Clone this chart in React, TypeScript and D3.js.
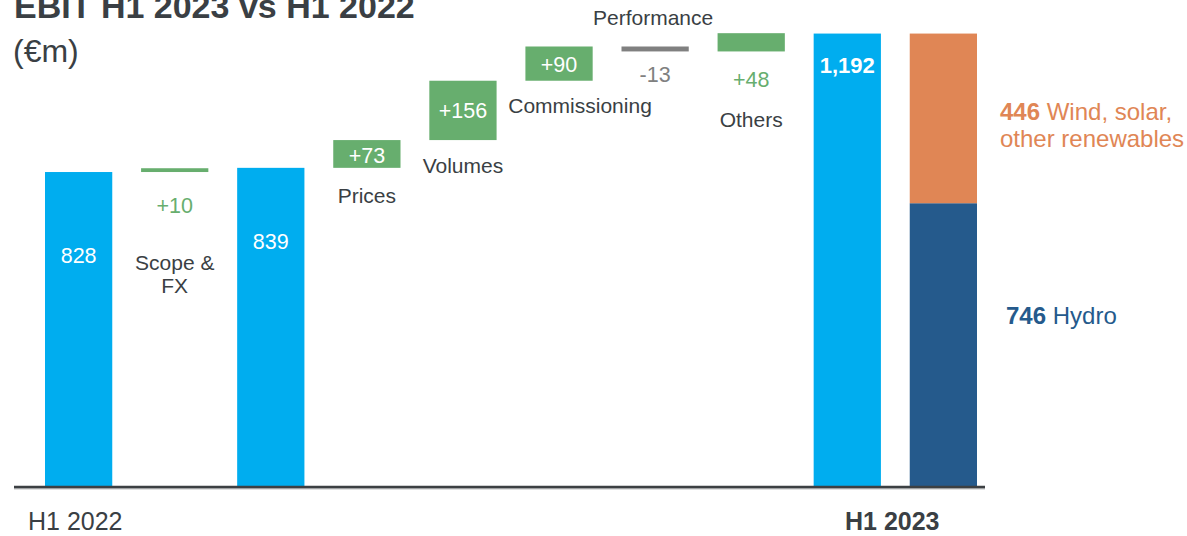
import React from 'react';
import * as d3 from 'd3';

// EBIT bridge H1 2022 -> H1 2023 (€m)
const startLabel = 'H1 2022';
const startValue = 828;
const subtotalValue = 839;
const endLabel = 'H1 2023';
const endValue = 1192;

const driverLabels = ['Scope & FX', 'Prices', 'Volumes', 'Commissioning', 'Performance', 'Others'];
const driverDeltas = [10, 73, 156, 90, -13, 48];

const splitLabels = ['Hydro', 'Wind, solar, other renewables'];
const splitValues = [746, 446];

const W = 1187;
const H = 536;
const baseY = 487;
const font = 'Arial, "Liberation Sans", Helvetica, sans-serif';
const textColor = '#3a3f44';
const blue = '#00adef';
const green = '#67ae6e';
const grey = '#808080';
const navy = '#255a8c';
const orange = '#e08655';

type Col = {
  key: string;
  kind: 'total' | 'delta' | 'stack';
  y0: number;
  y1: number;
  value: number;
};

// build waterfall columns
const cols: Col[] = [];
cols.push({ key: 'start', kind: 'total', y0: 0, y1: startValue, value: startValue });
let run = startValue;
driverDeltas.forEach((d, i) => {
  cols.push({ key: driverLabels[i], kind: 'delta', y0: run, y1: run + d, value: d });
  run += d;
  if (i === 0) {
    cols.push({ key: 'subtotal', kind: 'total', y0: 0, y1: subtotalValue, value: subtotalValue });
    run = subtotalValue;
  }
});
cols.push({ key: 'end', kind: 'total', y0: 0, y1: endValue, value: endValue });
cols.push({ key: 'split', kind: 'stack', y0: 0, y1: endValue, value: endValue });

// label placement (baseline y in px, optional x shift for category text)
const labelPos: Record<string, { value: number; cat?: number[]; dx?: number }> = {
  start: { value: 263 },
  'Scope & FX': { value: 213, cat: [270, 293] },
  subtotal: { value: 249 },
  Prices: { value: 163, cat: [203] },
  Volumes: { value: 118, cat: [173] },
  Commissioning: { value: 72, cat: [113], dx: 21 },
  Performance: { value: 82, cat: [25], dx: -2 },
  Others: { value: 87, cat: [127] },
  end: { value: 73 },
};

const catLines: Record<string, string[]> = {
  'Scope & FX': ['Scope &', 'FX'],
};

const fmt = d3.format(',');
const fmtDelta = (v: number) => (v > 0 ? `+${v}` : `${v}`);

export default function App() {
  const x = d3
    .scaleBand<string>()
    .domain(cols.map((c) => c.key))
    .range([45, 977])
    .paddingInner(0.3)
    .paddingOuter(0);

  const y = d3.scaleLinear().domain([0, 1280]).range([baseY, baseY - 1280 * 0.3804]);

  const bw = x.bandwidth();

  const stack = d3.stack<any>().keys(splitLabels)([
    Object.fromEntries(splitLabels.map((k, i) => [k, splitValues[i]])),
  ]);

  return (
    <svg
      width={W}
      height={H}
      style={{ position: 'absolute', left: 0, top: 0, background: '#fff' }}
      fontFamily={font}
    >
      {/* title */}
      <text x={14} y={18} fontSize={34} fontWeight="bold" fill={textColor}>
        EBIT H1 2023 vs H1 2022
      </text>
      <text x={13} y={62} fontSize={32} fill={textColor}>
        (€m)
      </text>

      {cols.map((c) => {
        const x0 = x(c.key)!;
        const cx = x0 + bw / 2;
        const lp = labelPos[c.key];
        if (c.kind === 'stack') {
          return (
            <g key={c.key}>
              {stack.map((s, i) => (
                <rect
                  key={s.key}
                  x={x0}
                  width={bw}
                  y={y(s[0][1])}
                  height={y(s[0][0]) - y(s[0][1])}
                  fill={i === 0 ? navy : orange}
                />
              ))}
            </g>
          );
        }
        if (c.kind === 'total') {
          const isEnd = c.key === 'end';
          return (
            <g key={c.key}>
              <rect x={x0} width={bw} y={y(c.y1)} height={baseY + 2 - y(c.y1)} fill={blue} />
              <text
                x={cx}
                y={lp.value}
                textAnchor="middle"
                fontSize={isEnd ? 22 : 21.5}
                fontWeight={isEnd ? 'bold' : 'normal'}
                fill="#fff"
              >
                {fmt(c.value)}
              </text>
            </g>
          );
        }
        const top = y(Math.max(c.y0, c.y1));
        const bottom = y(Math.min(c.y0, c.y1));
        const h = bottom - top;
        const neg = c.value < 0;
        const inside = h > 25;
        const lines = catLines[c.key] || [c.key];
        return (
          <g key={c.key}>
            <rect x={x0} width={bw} y={top} height={Math.max(h, 3)} fill={neg ? grey : green} />
            <text
              x={cx}
              y={lp.value}
              textAnchor="middle"
              fontSize={21.5}
              fill={inside ? '#fff' : neg ? grey : green}
            >
              {fmtDelta(c.value)}
            </text>
            {lines.map((l, i) => (
              <text
                key={l}
                x={cx + (lp.dx || 0)}
                y={lp.cat![i]}
                textAnchor="middle"
                fontSize={21}
                fill={textColor}
              >
                {l}
              </text>
            ))}
          </g>
        );
      })}

      {/* baseline */}
      <line x1={14} x2={985} y1={baseY + 1} y2={baseY + 1} stroke="#bfc1c2" strokeWidth={3} />
      <line x1={14} x2={985} y1={baseY} y2={baseY} stroke="#3c4043" strokeWidth={2.5} />

      {/* split labels */}
      <text x={1000} y={120} fontSize={24} fill={orange}>
        <tspan fontWeight="bold">{splitValues[1]}</tspan> Wind, solar,
      </text>
      <text x={1000} y={147} fontSize={24} fill={orange}>
        other renewables
      </text>
      <text x={1006} y={324} fontSize={24} fill={navy}>
        <tspan fontWeight="bold">{splitValues[0]}</tspan> {splitLabels[0]}
      </text>

      {/* axis labels */}
      <text x={28} y={530} fontSize={25} fill={textColor}>
        {startLabel}
      </text>
      <text x={845} y={530} fontSize={25} fontWeight="bold" fill={textColor}>
        {endLabel}
      </text>
    </svg>
  );
}
